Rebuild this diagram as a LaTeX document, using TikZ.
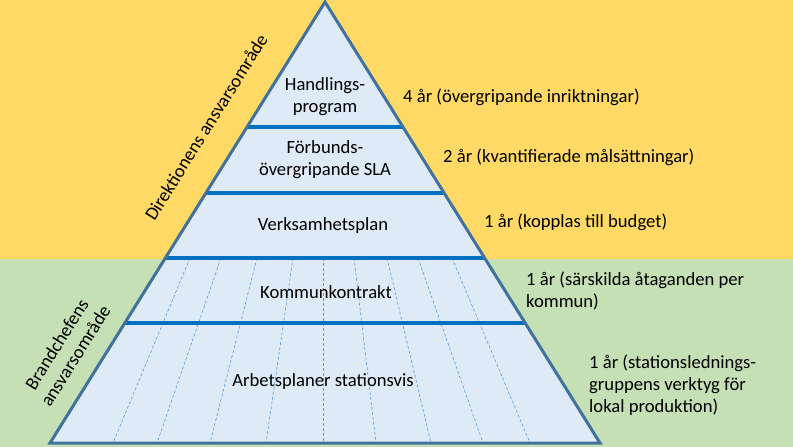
\documentclass[tikz,border=0pt]{standalone}
\usepackage{fontspec}
\setmainfont{Carlito}
\usetikzlibrary{calc,positioning}
\definecolor{direkt}{HTML}{FFD966}
\definecolor{brand}{HTML}{C5E0B4}
\definecolor{pyrfill}{HTML}{DEEBF7}
\definecolor{pyredge}{HTML}{41719C}
\definecolor{levelline}{HTML}{0070C0}
\definecolor{stationline}{HTML}{5B9BD5}
\tikzset{
    level/.style={
    align=center,font=\fontsize{18.7}{22}\selectfont,inner sep=0pt
    },
    horizon/.style={
    align=left,font=\fontsize{18.7}{22}\selectfont,anchor=west,inner sep=0pt
    },
    area/.style={
    align=center,font=\fontsize{18.7}{22}\selectfont,rotate=58,inner sep=0pt
    },
    divider/.style={
    draw=levelline,line width=3.2bp
    },
    station/.style={
    draw=stationline,line width=0.6bp,dash pattern=on 3bp off 2bp
    },
}
\begin{document}
\begin{tikzpicture}[x=1bp,y=-1bp]
   \useasboundingbox (0,0) rectangle (793,447);
   % areas
   \fill[direkt] (0,0) rectangle (793,259);
   \fill[brand] (0,259) rectangle (793,447);
   % pyramid
   \coordinate (top) at (325,2);
   \coordinate (bl) at (50,443);
   \coordinate (br) at (600,443);
   \fill[pyrfill] (top) -- (bl) -- (br) -- cycle;
   % station lines
   \foreach \a/\b in {190/113,221/157,257/210,293/266,323/323,354/376,387/431,418/483,452/530}
     \draw[station] (\a,258) -- (\b,443);
   % level lines
   \foreach \y in {127,193,258,323}
     \draw[divider] ($(top)!{(\y-2)/441}!(bl)$) -- ($(top)!{(\y-2)/441}!(br)$);
   \draw[draw=pyredge,line width=3bp,line join=miter] (top) -- (bl) -- (br) -- cycle;
   % levels
   \node[level] (hp) at (325,97) {Handlings-\\program};
   \node[level] (sla) at (325,160) {Förbunds-\\övergripande SLA};
   \node[level] (vp) at (323,226) {Verksamhetsplan};
   \node[level] (kk) at (326,292) {Kommunkontrakt};
   \node[level] (ap) at (323,382) {Arbetsplaner stationsvis};
   % horizons
   \node[horizon] (hp4) at (403,97) {4 år (övergripande inriktningar)};
   \node[horizon] (sla2) at (443,157) {2 år (kvantifierade målsättningar)};
   \node[horizon] (vp1) at (484,222) {1 år (kopplas till budget)};
   \node[horizon] (kk1) at (526,291) {1 år (särskilda åtaganden per\\kommun)};
   \node[horizon] (ap1) at (589,385) {1 år (stationslednings-\\gruppens verktyg för\\lokal produktion)};
   % responsibility
   \node[area] (dir) at (206,127) {Direktionens ansvarsområde};
   \node[area] (bch) at (66,350) {Brandchefens\\ansvarsområde};
\end{tikzpicture}
\end{document}
